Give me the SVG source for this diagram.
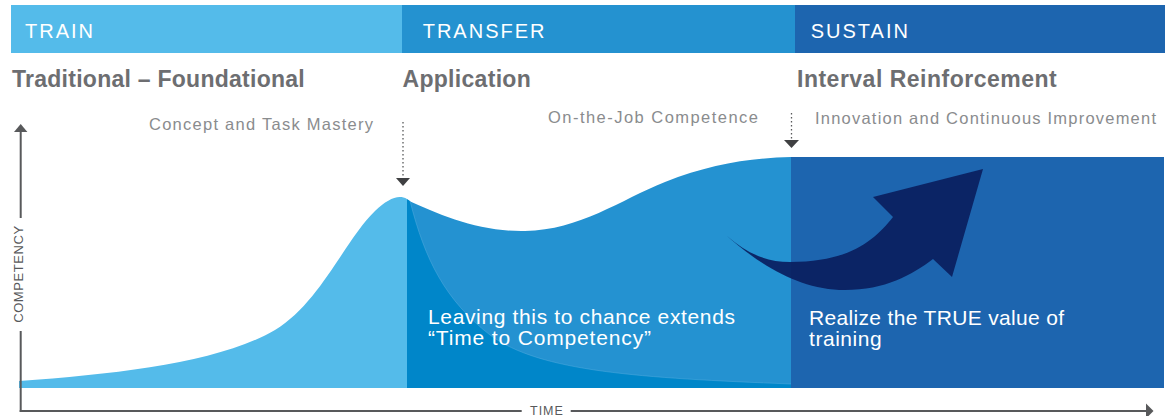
<svg xmlns="http://www.w3.org/2000/svg" width="1171" height="416" viewBox="0 0 1171 416">
<style>
.hdr{font-family:"Liberation Sans",Arial,sans-serif;font-size:20px;fill:#fff;letter-spacing:2px}
.ttl{font-family:"Liberation Sans",Arial,sans-serif;font-size:23px;font-weight:bold;fill:#6D6E71;letter-spacing:0.3px}
.sub{font-family:"Liberation Sans",Arial,sans-serif;font-size:16.5px;fill:#8A8C8E}
.body{font-family:"Liberation Sans",Arial,sans-serif;font-size:21px;fill:#fff}
.ax{font-family:"Liberation Sans",Arial,sans-serif;font-size:12.5px;fill:#58595B;letter-spacing:1px}
.axl{stroke:#58595B;stroke-width:2;fill:none}
.dot{stroke:#58595B;stroke-width:1.3;stroke-dasharray:1.5 2.5;fill:none}
.tri{fill:#3F4042}
</style>
<g id="header">
<rect x="11" y="5" width="391" height="48" fill="#54BBEA"/>
<rect x="402" y="5" width="393" height="48" fill="#2492D0"/>
<rect x="795" y="5" width="370" height="48" fill="#1D65AF"/>
<text class="hdr" x="25" y="38.3">TRAIN</text>
<text class="hdr" x="422.7" y="38.3">TRANSFER</text>
<text class="hdr" x="810.7" y="38.3">SUSTAIN</text>
</g>
<g id="titles">
<text class="ttl" x="12" y="87" textLength="293">Traditional – Foundational</text>
<text class="ttl" x="402.5" y="87">Application</text>
<text class="ttl" x="797" y="87" textLength="260">Interval Reinforcement</text>
<text class="sub" x="149" y="129.5" textLength="224">Concept and Task Mastery</text>
<text class="sub" x="548" y="122.5" textLength="210">On-the-Job Competence</text>
<text class="sub" x="815" y="124" textLength="341">Innovation and Continuous Improvement</text>
</g>
<g id="train-area">
<path d="M19,381 C120,374 220,362 275,330 C320,303 345,240 375,211 C388,199 398,194 407,199 V388 H19 Z" fill="#54BBEA"/>
</g>
<g id="transfer-area">
<path d="M407,200 C440,215 480,232 525,231 C580,230 620,200 665,182 C710,164 750,158 791,157 V388 H407 Z" fill="#2492D1"/>
<path d="M407,199 L410,201 C425,260 445,300 490,335 C540,372 640,378 791,384 V388 H407 Z" fill="#0086C9"/>
<path d="M410,201 C425,260 445,300 490,335 C540,372 640,378 791,384" fill="none" stroke="#5DB3E3" stroke-width="0.7" opacity="0.6"/>
<text class="body" x="428" y="324" textLength="307">Leaving this to chance extends</text>
<text class="body" x="428" y="345" textLength="223">“Time to Competency”</text>
</g>
<g id="sustain-area">
<rect x="791" y="157" width="373" height="231" fill="#1D65AF"/>
<text class="body" x="809" y="324.5" textLength="255">Realize the TRUE value of</text>
<text class="body" x="809" y="345.5" textLength="72.7">training</text>
</g>
<g id="curved-arrow">
<path d="M727,236 C760,265 800,290 845,290 C885,290 912,275 933,259 L952,277 L983,169 L873,197 L893,217 C875,240 850,262 790,262 C765,262 745,252 727,236 Z" fill="#0A1E5E" opacity="0.92"/>
</g>
<g id="connectors">
<line class="dot" x1="403" y1="122" x2="403" y2="178"/>
<polygon class="tri" points="396,178 410,178 403,186"/>
<line class="dot" x1="791.5" y1="113" x2="791.5" y2="140"/>
<polygon class="tri" points="784,140 799,140 791.5,148"/>
</g>
<g id="axes">
<line class="axl" x1="20.7" y1="131" x2="20.7" y2="218"/>
<line class="axl" x1="20.7" y1="331" x2="20.7" y2="412"/>
<polygon fill="#58595B" points="20.7,124 14,132 27.4,132"/>
<text class="ax" transform="translate(23,274) rotate(-90)" text-anchor="middle" style="letter-spacing:0.6px;font-size:13px">COMPETENCY</text>
<line class="axl" x1="19.7" y1="411" x2="521.7" y2="411"/>
<line class="axl" x1="570.7" y1="411" x2="1147" y2="411"/>
<polygon fill="#58595B" points="1146,403.5 1153.5,411 1146,418.5"/>
<text class="ax" x="530" y="415">TIME</text>
</g>
</svg>
